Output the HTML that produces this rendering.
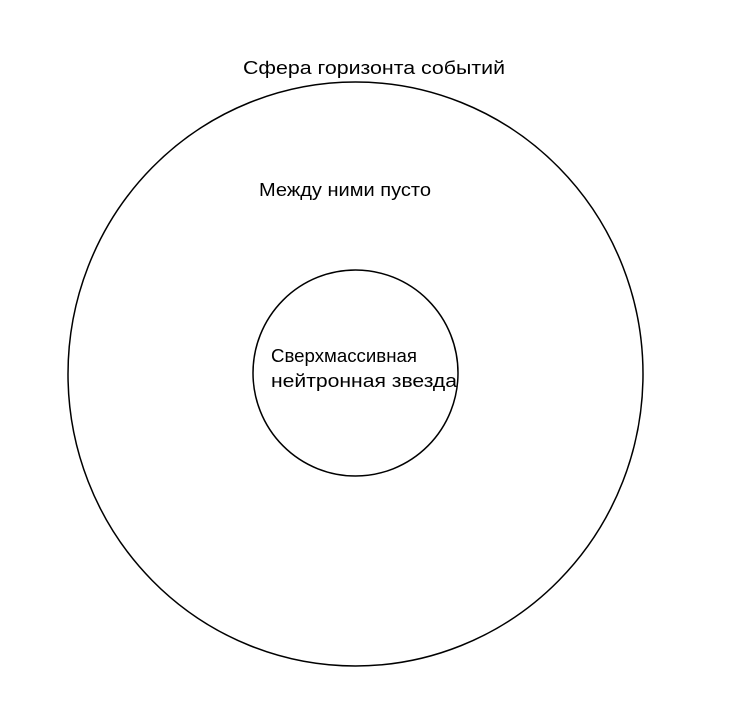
<!DOCTYPE html>
<html><head><meta charset="utf-8"><style>html,body{margin:0;padding:0;background:#fff;}svg{display:block}</style></head>
<body>
<svg width="752" height="725" viewBox="0 0 752 725" xmlns="http://www.w3.org/2000/svg">
<rect width="752" height="725" fill="#fff"/>
<ellipse cx="355.5" cy="374" rx="287.5" ry="292" fill="none" stroke="#000" stroke-width="1.5"/>
<ellipse cx="355.5" cy="373" rx="102.5" ry="103" fill="none" stroke="#000" stroke-width="1.5"/>
<g font-family="Liberation Sans, sans-serif" font-size="18" fill="#000">
<text x="243" y="74" textLength="262" lengthAdjust="spacingAndGlyphs">Сфера горизонта событий</text>
<text x="259" y="196" textLength="172" lengthAdjust="spacingAndGlyphs">Между ними пусто</text>
<text x="271" y="362" textLength="146" lengthAdjust="spacingAndGlyphs">Сверхмассивная</text>
<text x="271" y="387" textLength="186" lengthAdjust="spacingAndGlyphs">нейтронная звезда</text>
</g>
</svg>
</body></html>
